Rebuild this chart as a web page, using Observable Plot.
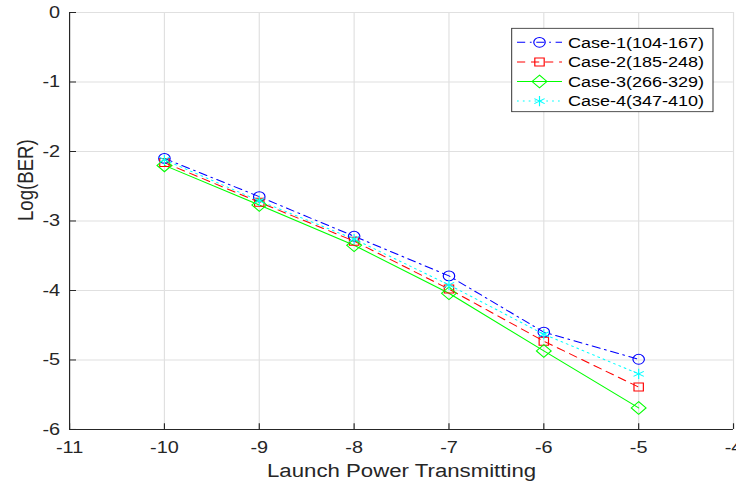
<!DOCTYPE html>
<html><head><meta charset="utf-8">
<script src="https://cdn.jsdelivr.net/npm/d3@7"></script>
<script src="https://cdn.jsdelivr.net/npm/@observablehq/plot@0.6"></script>
<style>
html,body{margin:0;padding:0;background:#fff;overflow:hidden;width:736px;height:483px}
#wrap{position:relative;width:629px;height:483px;transform:scaleX(1.17);transform-origin:0 0}
#wrap svg{position:absolute;left:0;top:0;overflow:visible}
</style></head><body><div id="wrap"></div>
<script>
// ---- data ----
const power = [-10, -9, -8, -7, -6, -5];
const case1 = [-2.10, -2.65, -3.22, -3.79, -4.60, -4.99];
const case2 = [-2.16, -2.73, -3.29, -3.98, -4.73, -5.39];
const case3 = [-2.20, -2.77, -3.35, -4.04, -4.87, -5.69];
const case4 = [-2.12, -2.71, -3.26, -3.92, -4.63, -5.20];
const seriesNames = ["Case-1(104-167)", "Case-2(185-248)", "Case-3(266-329)", "Case-4(347-410)"];
const xTicks = [-11, -10, -9, -8, -7, -6, -5, -4];
const yTicks = [0, -1, -2, -3, -4, -5, -6];
const xLabel = "Launch Power Transmitting";
const yLabel = "Log(BER)";

// ---- styles ----
const S = 1.17;
const W = 736 / S, H = 483;
const colors = ["#0000ff", "#ff0000", "#00ff00", "#00ffff"];
const symbols = ["circle", "square2", "diamond2", "asterisk"];
const radii = [4.9, 5.1, 5.7, 4.8];
const dashes = ["7,4,1.5,4", "7,5", null, "1.5,3.5"];
const ink = "#262626";
const font = "'Liberation Sans', Arial, Helvetica, sans-serif";

const values = [case1, case2, case3, case4];
const series = values.map((v, i) => power.map((p, j) => ({x: p, y: v[j], name: seriesNames[i]})));

const marks = [
  Plot.gridX(xTicks, {stroke: "#e0e0e0", strokeOpacity: 1}),
  Plot.gridY(yTicks, {stroke: "#e0e0e0", strokeOpacity: 1}),
  Plot.ruleX([-11], {stroke: ink}),
  Plot.ruleY([-6], {stroke: ink}),
  Plot.axisX(xTicks, {tickSize: -5.7, tickPadding: 17.4, stroke: ink, fill: ink, fontSize: 17, label: null, tickFormat: d => String(d)}),
  Plot.axisY(yTicks, {tickSize: -6, tickPadding: 14.1, stroke: ink, fill: ink, fontSize: 17, label: null, tickFormat: d => String(d)}),
  Plot.text([xLabel], {frameAnchor: "bottom", dy: 41, lineAnchor: "middle", fontSize: 19, fill: ink}),
  Plot.text([yLabel], {frameAnchor: "left", dx: -37.6, rotate: -90, lineAnchor: "middle", fontSize: 18.6, fill: ink})
];
series.forEach((d, i) => {
  marks.push(Plot.line(d, {x: "x", y: "y", stroke: colors[i], strokeWidth: 1, strokeDasharray: dashes[i]}));
});
series.forEach((d, i) => {
  marks.push(Plot.dot(d, {x: "x", y: "y", symbol: () => symbols[i], stroke: colors[i], fill: "none", r: radii[i], strokeWidth: 1}));
});

const chart = Plot.plot({
  width: W, height: H,
  marginLeft: 69 / S, marginRight: 3 / S, marginTop: 12, marginBottom: 54,
  style: {fontFamily: font, background: "transparent", color: ink, overflow: "visible"},
  x: {domain: [-11, -4]},
  y: {domain: [-6, 0]},
  symbol: {type: "identity"},
  marks
});
document.getElementById("wrap").appendChild(chart);

// ---- legend ----
const lg = d3.create("svg").attr("width", W).attr("height", H).style("pointer-events", "none");
const bx = 511.7 / S, bw = (713 - 511.7) / S, by = 28.3, bh = 83.4;
lg.append("rect").attr("x", bx).attr("y", by).attr("width", bw).attr("height", bh)
  .attr("fill", "#fff").attr("stroke", ink).attr("stroke-width", 0.8);
const symMap = {circle: d3.symbolCircle, square2: d3.symbolSquare2, diamond2: d3.symbolDiamond2, asterisk: d3.symbolAsterisk};
seriesNames.forEach((name, i) => {
  const ry = 42.3 + i * 19.6;
  lg.append("line").attr("x1", 517 / S).attr("x2", 562 / S).attr("y1", ry).attr("y2", ry)
    .attr("stroke", colors[i]).attr("stroke-width", 1).attr("stroke-dasharray", dashes[i]);
  lg.append("path").attr("transform", `translate(${539.5 / S},${ry})`)
    .attr("d", d3.symbol(symMap[symbols[i]], Math.PI * radii[i] * radii[i])())
    .attr("fill", "none").attr("stroke", colors[i]).attr("stroke-width", 1);
  lg.append("text").attr("x", 568 / S).attr("y", ry).attr("dy", "0.35em")
    .attr("font-family", font).attr("font-size", 15.4).attr("fill", "#000").text(name);
});
document.getElementById("wrap").appendChild(lg.node());
</script></body></html>
